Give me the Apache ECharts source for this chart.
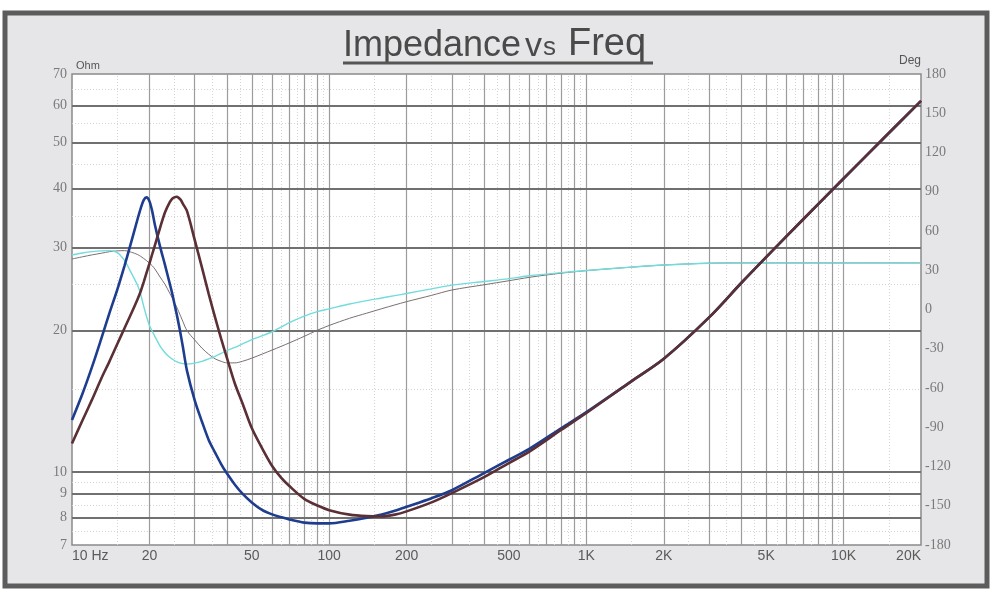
<!DOCTYPE html>
<html>
<head>
<meta charset="utf-8">
<script src="https://cdn.jsdelivr.net/npm/echarts@6/dist/echarts.min.js"></script>
<style>
html,body{margin:0;padding:0;background:#fff}
#Echart{width:1000px;height:599px}
</style>
</head>
<body>
<div id="Echart"></div>
<script>
// frequency points (Hz) shared by all four curves
const freq = [10,11,12,13,14,15,16,17,18,18.5,19,19.5,20,20.5,21,22,23,24,24.5,25,25.5,26,26.5,27,28,30,32,34,36,38,40,43,46,50,55,60,65,70,80,90,100,120,140,160,180,200,250,300,400,500,600,800,1000,1500,2000,3000,4000,5000,7000,10000,14000,20000];

// impedance, ohm (left axis)
const blueOhm = [12.9,14.7,16.8,19.2,21.8,24.4,27.4,30.8,34.5,36.3,37.8,38.3,37.6,35.8,33.5,30.1,27.5,25.1,24.0,22.8,21.7,20.6,19.5,18.4,16.4,14.2,12.8,11.7,11.0,10.4,9.94,9.4,9.0,8.62,8.3,8.13,8.02,7.93,7.81,7.78,7.78,7.88,8.0,8.13,8.28,8.44,8.8,9.15,9.95,10.62,11.2,12.4,13.4,15.6,17.4,21.3,25.2,28.6,34.5,42.0,50.5,61.4];
const brownOhm = [11.5,12.9,14.3,15.8,17.2,18.7,20.2,21.7,23.3,24.2,25.3,26.5,27.7,29.0,30.3,33.0,35.6,37.4,38.0,38.3,38.4,38.2,37.8,37.1,35.8,31.1,27.2,23.9,21.3,19.2,17.5,15.4,14.0,12.4,11.2,10.3,9.73,9.34,8.77,8.49,8.3,8.12,8.06,8.05,8.12,8.25,8.62,9.02,9.75,10.45,11.05,12.3,13.35,15.6,17.4,21.3,25.2,28.6,34.5,42.0,50.5,61.4];

// thin curves, degrees (right axis)
const cyanDeg = [41.7,43.2,44.2,44.8,45.0,43.5,37.5,28.0,18.3,11.5,2.5,-5.5,-12.3,-16.5,-20.5,-28.0,-33.0,-36.5,-37.8,-39.0,-39.9,-40.6,-41.0,-41.4,-41.7,-41.0,-39.6,-37.8,-35.8,-33.6,-31.3,-29.0,-26.3,-23.0,-20.0,-17.0,-13.5,-10.0,-5.0,-1.6,0.5,4.2,6.8,8.8,10.6,12.2,15.8,18.6,21.4,23.6,25.8,28.2,29.8,32.4,34.0,35.4,35.6,35.6,35.6,35.6,35.6,35.6];
const grayDeg = [38.6,40.3,41.8,43.0,44.2,44.8,45.0,43.8,42.0,40.6,39.0,37.3,35.5,33.5,31.0,24.8,19.2,12.4,9.0,5.5,2.1,-1.7,-5.5,-9.3,-16.2,-23.3,-29.5,-34.2,-37.7,-39.6,-40.8,-40.8,-39.6,-37.2,-34.0,-31.0,-28.2,-25.5,-20.5,-15.8,-12.2,-6.7,-2.8,0.6,3.5,6.0,10.8,14.9,18.9,22.0,24.6,27.8,29.7,32.4,34.0,35.4,35.6,35.6,35.6,35.6,35.6,35.6];

// grid lines
const xMajor = [20,30,40,50,60,70,80,90,100,200,300,400,500,600,700,800,900,1000,2000,3000,4000,5000,6000,7000,8000,9000,10000];
const xMinor = [15,25,35,45,55,65,75,85,95,150,250,350,450,550,650,750,850,950,1500,2500,3500,4500,5500,6500,7500,8500,9500,15000];
const yMajor = [8,9,10,20,30,40,50,60];
const yMinor = [7.5,8.5,9.5,15,25,35,45,55,65];

// tick labels
const xLabelVals = [10,20,50,100,200,500,1000,2000,5000,10000,20000];
const xLabelText = ['10 Hz','20','50','100','200','500','1K','2K','5K','10K','20K'];
const ohmLabels = [7,8,9,10,20,30,40,50,60,70];

const pairs = (ys) => freq.map((f, i) => [f, ys[i]]);

const majorV = {color: '#9c9c9c', width: 1.2, type: 'solid'};
const majorH = {color: '#707070', width: 1.8, type: 'solid'};
const minorS = {color: '#d4d4d4', width: 1, type: [1, 2]};
const sansFont = '"Liberation Sans", Arial, sans-serif';
const serifFont = '"Liberation Serif", "Times New Roman", serif';

let gridLines = [];
xMinor.forEach(v => gridLines.push({xAxis: v, lineStyle: minorS}));
yMinor.forEach(v => gridLines.push({yAxis: v, lineStyle: minorS}));
xMajor.forEach(v => gridLines.push({xAxis: v, lineStyle: majorV}));
yMajor.forEach(v => gridLines.push({yAxis: v, lineStyle: majorH}));

let labelLines = [];
xLabelVals.forEach((v, i) => labelLines.push({
    xAxis: v,
    label: {show: true, formatter: xLabelText[i], position: 'start', distance: 4,
        align: i === 0 ? 'left' : (i === xLabelVals.length - 1 ? 'right' : 'center'),
        fontFamily: sansFont, fontSize: 14, color: '#5a5a5a'}
}));
ohmLabels.forEach(v => labelLines.push({
    yAxis: v,
    label: {show: true, formatter: String(v), position: 'start', distance: 5,
        fontFamily: serifFont, fontSize: 14, color: '#7a7a7a'}
}));

let Chart = echarts.init(document.getElementById('Echart'), null, {renderer: 'canvas'});
let option = {
    animation: false,
    backgroundColor: '#ffffff',
    graphic: [
        {type: 'rect', z: -10, shape: {x: 5, y: 13, width: 982, height: 573},
            style: {fill: '#e6e6e8', stroke: '#5c5c5c', lineWidth: 5}},
        {type: 'text', x: 343, y: 64, style: {text: 'Impedance', fill: '#4a4a4a',
            font: '36px ' + sansFont, textVerticalAlign: 'bottom'}},
        {type: 'text', x: 525, y: 64, style: {text: 'v', fill: '#4a4a4a',
            font: '34px ' + sansFont, textVerticalAlign: 'bottom'}},
        {type: 'text', x: 543, y: 61, style: {text: 's', fill: '#4a4a4a',
            font: '26px ' + sansFont, textVerticalAlign: 'bottom'}},
        {type: 'text', x: 568, y: 64, style: {text: 'Freq', fill: '#4a4a4a',
            font: '38px ' + sansFont, textVerticalAlign: 'bottom'}},
        {type: 'line', shape: {x1: 343, y1: 63, x2: 653, y2: 63}, style: {stroke: '#555', lineWidth: 3}}
    ],
    grid: {left: 72, right: 79, top: 74, bottom: 54, show: true, backgroundColor: '#ffffff',
        borderColor: '#8a8a8a', borderWidth: 1.5},
    xAxis: {
        type: 'log', logBase: 10, min: 10, max: 20000,
        axisLine: {show: false}, axisTick: {show: false}, axisLabel: {show: false},
        splitLine: {show: false}, minorSplitLine: {show: false}
    },
    yAxis: [
        {type: 'log', logBase: 10, min: 7, max: 70, position: 'left',
            name: 'Ohm', nameLocation: 'end', nameGap: 3,
            nameTextStyle: {align: 'left', verticalAlign: 'bottom', padding: [0, 0, 0, 4],
                fontFamily: sansFont, fontSize: 11, color: '#555'},
            axisLine: {show: false}, axisTick: {show: false}, axisLabel: {show: false},
            splitLine: {show: false}},
        {type: 'value', min: -180, max: 180, interval: 30, position: 'right',
            name: 'Deg', nameLocation: 'end', nameGap: 1,
            nameTextStyle: {align: 'right', verticalAlign: 'bottom',
                fontFamily: sansFont, fontSize: 12, color: '#555'},
            axisLine: {show: false}, axisTick: {show: false},
            axisLabel: {margin: 4, fontFamily: serifFont, fontSize: 14, color: '#7a7a7a'},
            splitLine: {show: false}}
    ],
    series: [
        {name: 'grid', type: 'line', data: [], z: 1,
            markLine: {silent: true, symbol: ['none', 'none'], z: 1, animation: false,
                label: {show: false}, data: gridLines}},
        {name: 'labels', type: 'line', data: [], z: 1,
            markLine: {silent: true, symbol: ['none', 'none'], z: 1, animation: false,
                lineStyle: {color: 'rgba(0,0,0,0)', width: 1}, data: labelLines}},
        {name: 'Phase B', type: 'line', yAxisIndex: 1, data: pairs(grayDeg), showSymbol: false,
            smooth: 0.3, lineStyle: {color: '#7a7070', width: 1}, z: 3},
        {name: 'Phase A', type: 'line', yAxisIndex: 1, data: pairs(cyanDeg), showSymbol: false,
            smooth: 0.3, lineStyle: {color: '#72dcdc', width: 1.4}, z: 3},
        {name: 'Impedance A', type: 'line', yAxisIndex: 0, data: pairs(blueOhm), showSymbol: false,
            smooth: 0.3, lineStyle: {color: '#1f3d8f', width: 2.6}, z: 4},
        {name: 'Impedance B', type: 'line', yAxisIndex: 0, data: pairs(brownOhm), showSymbol: false,
            smooth: 0.3, lineStyle: {color: '#5a2f35', width: 2.6}, z: 4}
    ]
};
Chart.setOption(option);
window.onresize = function () {
    Chart.resize();
};
</script>
</body>
</html>
